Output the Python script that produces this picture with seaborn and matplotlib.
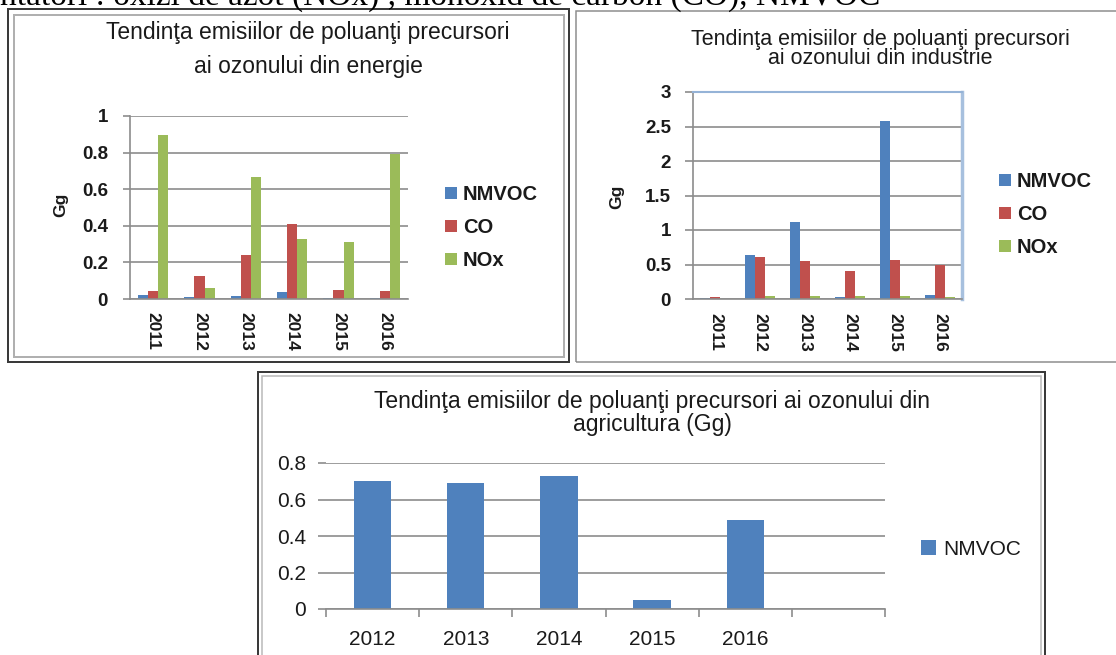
import matplotlib
matplotlib.use("Agg")
import matplotlib.pyplot as plt
import seaborn as sns
import pandas as pd
from matplotlib.patches import Rectangle, Patch
from matplotlib.ticker import FuncFormatter, FixedLocator

W, H = 1116, 655

# data (Gg)
years = ["2011", "2012", "2013", "2014", "2015", "2016"]
poluanti = ["NMVOC", "CO", "NOx"]

energie_nmvoc = [0.024, 0.011, 0.016, 0.036, 0.007, 0.007]
energie_co = [0.045, 0.127, 0.242, 0.411, 0.047, 0.042]
energie_nox = [0.896, 0.060, 0.665, 0.327, 0.309, 0.793]

industrie_nmvoc = [0.010, 0.643, 1.116, 0.030, 2.575, 0.058]
industrie_co = [0.030, 0.613, 0.546, 0.410, 0.560, 0.498]
industrie_nox = [0.000, 0.043, 0.039, 0.043, 0.039, 0.034]

agri_years = ["2012", "2013", "2014", "2015", "2016"]
agri_nmvoc = [0.700, 0.690, 0.730, 0.050, 0.485]

energie_ticks = [0, 0.2, 0.4, 0.6, 0.8, 1]
industrie_ticks = [0, 0.5, 1, 1.5, 2, 2.5, 3]
agri_ticks = [0, 0.2, 0.4, 0.6, 0.8]

colors = ["#4F81BD", "#C0504D", "#9BBB59"]
grid_col = "#8C8C8C"
txt_col = "#1A1A1A"

sns.set_theme(style="white")
plt.rcParams["font.family"] = ["Liberation Sans", "DejaVu Sans"]
plt.rcParams["text.color"] = txt_col


def box(x0, y0, x1, y1):
    return [x0 / W, 1 - y1 / H, (x1 - x0) / W, (y1 - y0) / H]


def fx(x):
    return x / W


def fy(y):
    return 1 - y / H


def px2pt(p):
    return p * 72 / 100


def long_df(nmvoc, co, nox):
    return pd.DataFrame({
        "An": years * 3,
        "Poluant": [p for p in poluanti for _ in years],
        "Gg": nmvoc + co + nox,
    })


def frame(x0, y0, x1, y1, color, lw):
    r = Rectangle((fx(x0), fy(y1)), fx(x1) - fx(x0), fy(y0) - fy(y1),
                  transform=fig.transFigure, fill=False, edgecolor=color,
                  linewidth=px2pt(lw), clip_on=False)
    fig.add_artist(r)


def style(ax, ticks, ytick_len, ypad, fs, weight):
    ax.set_ylim(ticks[0], ticks[-1])
    ax.yaxis.set_major_locator(FixedLocator(ticks))
    ax.yaxis.set_major_formatter(FuncFormatter(lambda v, _: f"{v:g}"))
    ax.yaxis.grid(True, color=grid_col, linewidth=1.2)
    ax.xaxis.grid(False)
    ax.set_axisbelow(True)
    ax.set_xlabel("")
    ax.set_ylabel("")
    for s in ["left", "bottom"]:
        ax.spines[s].set_color(grid_col)
        ax.spines[s].set_linewidth(1.2)
    for s in ["top", "right"]:
        ax.spines[s].set_visible(False)
    ax.tick_params(axis="y", left=True, length=px2pt(ytick_len), width=1.2,
                   color=grid_col, pad=px2pt(ypad), labelsize=fs, labelcolor=txt_col)
    for lab in ax.get_yticklabels():
        lab.set_fontweight(weight)


fig = plt.figure(figsize=(W / 100, H / 100), dpi=100)

# cut-off line of the document text above the charts
fig.text(0, fy(5), "ntatori : oxizi de azot (NOx) , monoxid de carbon (CO), NMVOC",
         family=["Liberation Serif", "DejaVu Serif"], fontsize=24, ha="left",
         va="baseline", color="black")

# ---------------- energie ----------------
frame(8, 9, 569, 362, "#3A3A3A", 2)
frame(14, 15, 564, 357, "#B0B0B0", 2)

ax1 = fig.add_axes(box(130, 116, 408, 299))
sns.barplot(data=long_df(energie_nmvoc, energie_co, energie_nox), x="An", y="Gg",
            hue="Poluant", palette=colors, width=0.65, gap=0, saturation=1,
            linewidth=0, legend=False, ax=ax1)
ax1.set_xlim(-0.5, 5.5)
style(ax1, energie_ticks, 7, 15, 13.5, "bold")
ax1.tick_params(axis="x", bottom=False, pad=px2pt(5), labelrotation=-90,
                labelsize=12.5, labelcolor=txt_col)
for lab in ax1.get_xticklabels():
    lab.set_fontweight("bold")

fig.text(fx(308), fy(33), "Tendinţa emisiilor de poluanţi precursori",
         ha="center", va="center", fontsize=16.5)
fig.text(fx(308), fy(67), "ai ozonului din energie",
         ha="center", va="center", fontsize=16.5)
fig.text(fx(61), fy(205), "Gg", rotation=90, ha="center", va="center",
         fontsize=12.5, fontweight="bold")

handles = [Patch(facecolor=c, edgecolor="none") for c in colors]
ax1.legend(handles, poluanti, loc="upper left", bbox_to_anchor=(fx(445), fy(185)),
           bbox_transform=fig.transFigure, frameon=False, borderpad=0,
           borderaxespad=0, handlelength=0.6, handleheight=0.6,
           handletextpad=0.3, labelspacing=0.7,
           prop={"size": 14.5, "weight": "bold"})

# ---------------- industrie ----------------
frame(576, 11, 1130, 362, "#8C8C8C", 1.5)

ax2 = fig.add_axes(box(693, 92, 962, 299))
sns.barplot(data=long_df(industrie_nmvoc, industrie_co, industrie_nox), x="An", y="Gg",
            hue="Poluant", palette=colors, width=0.67, gap=0, saturation=1,
            linewidth=0, legend=False, ax=ax2)
ax2.set_xlim(-0.5, 5.5)
style(ax2, industrie_ticks, 8, 14, 13.5, "bold")
ax2.spines["top"].set_visible(True)
ax2.spines["top"].set_color("#95B3D7")
ax2.spines["top"].set_linewidth(1.5)
ax2.spines["right"].set_visible(True)
ax2.spines["right"].set_color("#A7C0DE")
ax2.spines["right"].set_linewidth(2.5)
ax2.tick_params(axis="x", bottom=False, pad=px2pt(6), labelrotation=-90,
                labelsize=12.5, labelcolor=txt_col)
for lab in ax2.get_xticklabels():
    lab.set_fontweight("bold")

fig.text(fx(880), fy(49), "Tendinţa emisiilor de poluanţi precursori\nai ozonului din industrie",
         ha="center", va="center", fontsize=15.5, linespacing=0.9)
fig.text(fx(617), fy(197), "Gg", rotation=90, ha="center", va="center",
         fontsize=12.5, fontweight="bold")

ax2.legend(handles, poluanti, loc="upper left", bbox_to_anchor=(fx(999), fy(172)),
           bbox_transform=fig.transFigure, frameon=False, borderpad=0,
           borderaxespad=0, handlelength=0.6, handleheight=0.6,
           handletextpad=0.3, labelspacing=0.7,
           prop={"size": 14.5, "weight": "bold"})

# ---------------- agricultura ----------------
frame(258, 372, 1045, 680, "#3A3A3A", 2)
frame(262, 376, 1041, 680, "#B8B8B8", 1.5)

ax3 = fig.add_axes(box(326, 463, 885, 609))
sns.barplot(x=agri_years, y=agri_nmvoc, color=colors[0], width=0.4,
            saturation=1, linewidth=0, ax=ax3)
ax3.set_xlim(-0.5, 5.5)
style(ax3, agri_ticks, 8, 12, 15, "normal")
ax3.spines["left"].set_visible(False)
ax3.xaxis.set_minor_locator(FixedLocator([i - 0.5 for i in range(7)]))
ax3.tick_params(axis="x", which="major", bottom=False, pad=px2pt(13),
                labelsize=15, labelcolor=txt_col)
ax3.tick_params(axis="x", which="minor", bottom=True, length=px2pt(8),
                width=1.2, color=grid_col)

fig.text(fx(652), fy(413), "Tendinţa emisiilor de poluanţi precursori ai ozonului din\nagricultura (Gg)",
         ha="center", va="center", fontsize=16.5, linespacing=0.98)

ax3.legend(handles[:1], ["NMVOC"], loc="upper left", bbox_to_anchor=(fx(921), fy(540)),
           bbox_transform=fig.transFigure, frameon=False, borderpad=0,
           borderaxespad=0, handlelength=0.7, handleheight=0.7,
           handletextpad=0.35, prop={"size": 15})

fig.savefig("out.png", dpi=100)
